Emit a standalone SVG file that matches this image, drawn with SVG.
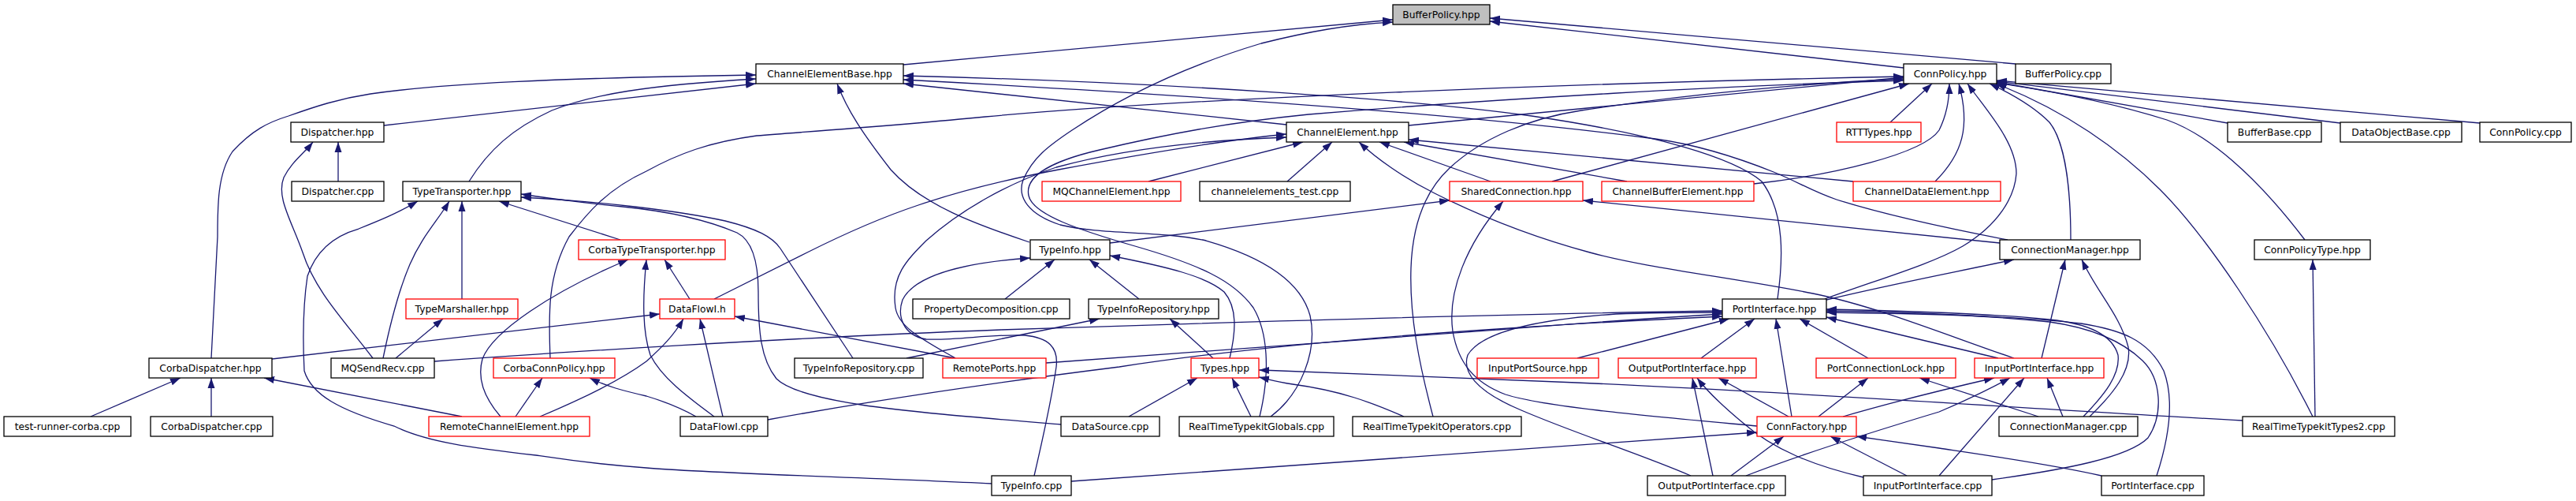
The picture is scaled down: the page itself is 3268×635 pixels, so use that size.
<svg xmlns="http://www.w3.org/2000/svg" width="3268" height="635" viewBox="0 0 3268 635">
<style>
.n rect{fill:#fff;stroke:#000;stroke-width:1.3}
.n.r rect{stroke:#f00}
.n.root rect{fill:#bfbfbf}
.n text{font-family:"DejaVu Sans","Liberation Sans",sans-serif;font-size:12.3px;text-anchor:middle;fill:#000}
#edges path{fill:none;stroke:#191970;stroke-width:1.3;marker-end:url(#a)}
</style>
<defs>
<marker id="a" markerUnits="userSpaceOnUse" markerWidth="14" markerHeight="10" refX="13" refY="5" orient="auto"><path d="M0,0.5 L13,5 L0,9.5 z" fill="#191970"/></marker>
</defs>
<rect width="3268" height="635" fill="#fff"/>
<g id="edges">
<path d="M1146,82 L1767,25"/>
<path d="M1612,528 C1650,500 1672,445 1662,400 C1650,355 1600,325 1530,305 C1470,292 1400,298 1345,285 C1305,272 1290,250 1298,228 C1310,200 1330,185 1360,165 C1420,125 1500,85 1600,55 C1660,40 1710,31 1767,28"/>
<path d="M2415,86 L1890,27"/>
<path d="M2557,81 L1890,23"/>
<path d="M487,159 L959,106"/>
<path d="M268,454 L276,300 C276,260 276,220 295,192 C320,165 340,155 366,147 C400,135 430,125 470,119 C560,106 700,99 959,95"/>
<path d="M595,230 C620,190 650,163 700,140 C750,120 820,108 959,100"/>
<path d="M1306,307 C1240,285 1170,260 1130,215 C1095,170 1075,140 1062,106"/>
<path d="M1632,158 L1146,106"/>
<path d="M2255,379 C2262,330 2265,270 2235,230 C2200,200 2100,170 1943,147 C1800,127 1500,105 1146,96"/>
<path d="M2547,304 C2500,295 2400,275 2330,253 C2300,243 2280,230 2250,218 C2200,198 2150,183 2100,176 C1900,150 1600,125 1146,101"/>
<path d="M1787,159 L2415,98"/>
<path d="M1969,230 L2422,106"/>
<path d="M2398,155 L2451,106"/>
<path d="M2225,233 C2325,222 2440,195 2460,165 C2470,145 2473,125 2473,106"/>
<path d="M2455,230 C2490,195 2500,160 2485,106"/>
<path d="M2315,379 C2380,355 2450,335 2490,312 C2535,285 2556,250 2558,220 C2558,180 2520,140 2496,106"/>
<path d="M2627,304 C2627,240 2620,180 2600,155 C2580,135 2550,118 2524,106"/>
<path d="M2934,528 C2880,420 2800,300 2740,240 C2690,190 2620,140 2532,106"/>
<path d="M2924,304 C2860,220 2800,170 2749,152 C2680,130 2600,115 2533,105"/>
<path d="M2826,156 L2533,104"/>
<path d="M2969,156 L2533,103"/>
<path d="M3146,156 L2533,102"/>
<path d="M698,454 C696,400 694,350 722,300 C745,270 770,240 820,217 C860,195 900,180 960,172 C1050,165 1150,158 1250,148 C1500,125 2000,105 2415,97"/>
<path d="M1818,528 C1800,460 1788,400 1790,340 C1792,280 1810,240 1839,213 C1880,175 1940,150 2006,140 C2150,118 2300,105 2415,100"/>
<path d="M1598,528 C1612,470 1608,420 1590,390 C1565,355 1520,335 1440,312 C1370,292 1310,272 1305,248 C1300,225 1330,205 1395,190 C1480,170 1560,155 1660,145 C1900,125 2200,108 2415,102"/>
<path d="M1408,308 L1839,254"/>
<path d="M2229,540 C2100,528 1960,516 1910,500 C1870,485 1850,460 1843,420 C1836,370 1860,310 1907,255"/>
<path d="M2537,308 L2008,254"/>
<path d="M1891,230 L1750,180"/>
<path d="M2064,230 L1781,180"/>
<path d="M2351,230 L1787,177"/>
<path d="M1457,230 L1653,180"/>
<path d="M1633,230 L1690,180"/>
<path d="M906,379 L1024,320 C1080,292 1120,275 1165,260 C1230,238 1290,225 1343,215 C1450,195 1550,178 1632,170"/>
<path d="M1212,454 C1170,430 1140,415 1136,390 C1130,350 1150,330 1175,305 C1220,265 1280,232 1340,212 C1420,190 1520,178 1632,174"/>
<path d="M2555,454 C2470,425 2380,388 2300,372 C2200,352 2090,340 2017,320 C1950,302 1880,275 1820,245 C1780,225 1745,200 1724,180"/>
<path d="M429,230 L429,180"/>
<path d="M473,454 C440,410 400,370 384,320 C370,280 350,250 360,225 C370,205 385,195 397,180"/>
<path d="M787,304 L633,255"/>
<path d="M586,379 L586,255"/>
<path d="M486,454 C495,410 505,370 520,335 C535,300 555,280 570,255"/>
<path d="M1259,613 C1100,605 900,600 820,593 C750,588 700,580 680,577 C600,568 540,560 500,540 C430,520 395,500 386,470 C384,430 384,390 390,350 C400,320 420,300 455,290 C480,280 505,270 530,255"/>
<path d="M1082,454 L990,315 C980,300 960,290 920,280 C860,267 760,255 661,250"/>
<path d="M1346,538 C1250,530 1150,522 1092,513 C1040,505 1000,495 985,480 C965,455 962,420 962,370 C962,335 955,305 935,295 C900,280 850,268 790,262 C730,256 700,252 661,246"/>
<path d="M875,379 L843,329"/>
<path d="M906,528 C875,505 840,480 825,450 C815,420 815,380 820,329"/>
<path d="M635,528 C615,505 605,480 612,455 C625,420 700,370 797,329"/>
<path d="M345,455 L837,398"/>
<path d="M685,528 C740,505 790,480 820,458 C840,440 855,425 867,404"/>
<path d="M917,528 L888,404"/>
<path d="M1212,454 L932,401"/>
<path d="M654,528 L688,479"/>
<path d="M883,528 C860,515 840,508 820,502 C790,495 770,490 748,479"/>
<path d="M115,528 L229,479"/>
<path d="M268,528 L268,479"/>
<path d="M586,528 L335,479"/>
<path d="M502,454 L562,404"/>
<path d="M1275,379 L1338,329"/>
<path d="M1445,379 L1382,329"/>
<path d="M1560,454 C1568,420 1570,390 1553,370 C1530,350 1480,338 1408,324"/>
<path d="M1312,603 C1322,560 1335,500 1340,465 C1343,440 1330,428 1300,425 C1260,423 1210,432 1175,430 C1145,425 1138,400 1145,380 C1160,350 1220,333 1307,327"/>
<path d="M1150,454 L1395,404"/>
<path d="M1539,454 L1484,404"/>
<path d="M1432,528 L1519,479"/>
<path d="M1587,528 L1563,479"/>
<path d="M2845,533 C2600,520 2300,498 2000,485 C1800,476 1700,472 1597,469"/>
<path d="M1781,528 C1740,510 1700,495 1640,487 C1620,484 1610,481 1597,478"/>
<path d="M2001,454 L2194,404"/>
<path d="M2158,454 L2226,404"/>
<path d="M2273,528 L2253,404"/>
<path d="M2370,454 L2283,404"/>
<path d="M2535,454 L2317,402"/>
<path d="M551,458 C700,447 1000,428 1270,418 C1600,407 1900,398 2185,394"/>
<path d="M1327,460 C1500,447 1700,432 1900,418 C2000,410 2100,403 2185,398"/>
<path d="M974,532 C1150,500 1300,480 1420,465 C1550,445 1700,430 1900,417 C2000,410 2100,405 2185,401"/>
<path d="M2145,603 C2080,575 2000,550 1930,520 C1870,495 1855,470 1862,450 C1880,420 1950,405 2050,398 C2100,396 2150,396 2185,396"/>
<path d="M2527,608 C2620,595 2700,580 2725,555 C2745,525 2742,480 2718,457 C2690,430 2650,415 2600,408 C2500,398 2400,395 2317,394"/>
<path d="M2736,603 C2750,560 2760,510 2745,470 C2725,430 2690,418 2640,410 C2550,400 2420,397 2317,396"/>
<path d="M2643,528 C2670,500 2690,475 2687,450 C2680,425 2650,410 2600,405 C2520,397 2420,394 2317,392"/>
<path d="M2317,380 C2400,360 2480,345 2555,329"/>
<path d="M2651,528 C2680,500 2705,470 2700,440 C2690,400 2660,370 2641,329"/>
<path d="M2590,454 L2620,329"/>
<path d="M2338,528 C2400,510 2460,495 2530,479"/>
<path d="M2215,603 C2300,570 2400,540 2460,522 C2500,505 2530,490 2550,479"/>
<path d="M2460,603 L2568,479"/>
<path d="M2617,528 L2597,479"/>
<path d="M2307,528 L2370,479"/>
<path d="M2586,528 L2435,479"/>
<path d="M2269,528 L2180,479"/>
<path d="M2173,603 L2147,479"/>
<path d="M2364,605 C2300,590 2250,570 2210,535 C2180,510 2165,495 2153,479"/>
<path d="M2196,603 L2263,553"/>
<path d="M2419,603 L2322,553"/>
<path d="M2666,603 C2600,588 2500,574 2460,568 C2420,562 2390,558 2355,553"/>
<path d="M1359,610 C1600,592 1900,570 2229,548"/>
<path d="M2937,528 L2934,329"/>
</g>
<g id="node-BufferPolicy_hpp" class="n root"><rect x="1767" y="6" width="123" height="25"/><text x="1828.5" y="23">BufferPolicy.hpp</text></g>
<g id="node-ChannelElementBase_hpp" class="n"><rect x="959" y="81" width="187" height="25"/><text x="1052.5" y="98">ChannelElementBase.hpp</text></g>
<g id="node-ConnPolicy_hpp" class="n"><rect x="2415" y="81" width="118" height="25"/><text x="2474" y="98">ConnPolicy.hpp</text></g>
<g id="node-BufferPolicy_cpp" class="n"><rect x="2557" y="81" width="121" height="25"/><text x="2617.5" y="98">BufferPolicy.cpp</text></g>
<g id="node-Dispatcher_hpp" class="n"><rect x="369" y="155" width="118" height="25"/><text x="428" y="172">Dispatcher.hpp</text></g>
<g id="node-ChannelElement_hpp" class="n"><rect x="1632" y="155" width="155" height="25"/><text x="1709.5" y="172">ChannelElement.hpp</text></g>
<g id="node-RTTTypes_hpp" class="n r"><rect x="2330" y="155" width="107" height="25"/><text x="2383.5" y="172">RTTTypes.hpp</text></g>
<g id="node-BufferBase_cpp" class="n"><rect x="2826" y="155" width="119" height="25"/><text x="2885.5" y="172">BufferBase.cpp</text></g>
<g id="node-DataObjectBase_cpp" class="n"><rect x="2969" y="155" width="154" height="25"/><text x="3046" y="172">DataObjectBase.cpp</text></g>
<g id="node-ConnPolicy_cpp" class="n"><rect x="3146" y="155" width="116" height="25"/><text x="3204" y="172">ConnPolicy.cpp</text></g>
<g id="node-Dispatcher_cpp" class="n"><rect x="370" y="230" width="117" height="25"/><text x="428.5" y="247">Dispatcher.cpp</text></g>
<g id="node-TypeTransporter_hpp" class="n"><rect x="511" y="230" width="150" height="25"/><text x="586" y="247">TypeTransporter.hpp</text></g>
<g id="node-MQChannelElement_hpp" class="n r"><rect x="1322" y="230" width="176" height="25"/><text x="1410" y="247">MQChannelElement.hpp</text></g>
<g id="node-channelelements_test_cpp" class="n"><rect x="1522" y="230" width="191" height="25"/><text x="1617.5" y="247">channelelements_test.cpp</text></g>
<g id="node-SharedConnection_hpp" class="n r"><rect x="1839" y="230" width="169" height="25"/><text x="1923.5" y="247">SharedConnection.hpp</text></g>
<g id="node-ChannelBufferElement_hpp" class="n r"><rect x="2032" y="230" width="193" height="25"/><text x="2128.5" y="247">ChannelBufferElement.hpp</text></g>
<g id="node-ChannelDataElement_hpp" class="n r"><rect x="2351" y="230" width="187" height="25"/><text x="2444.5" y="247">ChannelDataElement.hpp</text></g>
<g id="node-CorbaTypeTransporter_hpp" class="n r"><rect x="734" y="304" width="186" height="25"/><text x="827" y="321">CorbaTypeTransporter.hpp</text></g>
<g id="node-TypeInfo_hpp" class="n"><rect x="1307" y="304" width="101" height="25"/><text x="1357.5" y="321">TypeInfo.hpp</text></g>
<g id="node-ConnectionManager_hpp" class="n"><rect x="2537" y="304" width="178" height="25"/><text x="2626" y="321">ConnectionManager.hpp</text></g>
<g id="node-ConnPolicyType_hpp" class="n"><rect x="2860" y="304" width="147" height="25"/><text x="2933.5" y="321">ConnPolicyType.hpp</text></g>
<g id="node-TypeMarshaller_hpp" class="n r"><rect x="515" y="379" width="142" height="25"/><text x="586" y="396">TypeMarshaller.hpp</text></g>
<g id="node-DataFlowI_h" class="n r"><rect x="837" y="379" width="95" height="25"/><text x="884.5" y="396">DataFlowI.h</text></g>
<g id="node-PropertyDecomposition_cpp" class="n"><rect x="1158" y="379" width="199" height="25"/><text x="1257.5" y="396">PropertyDecomposition.cpp</text></g>
<g id="node-TypeInfoRepository_hpp" class="n"><rect x="1381" y="379" width="165" height="25"/><text x="1463.5" y="396">TypeInfoRepository.hpp</text></g>
<g id="node-PortInterface_hpp" class="n"><rect x="2185" y="379" width="132" height="25"/><text x="2251" y="396">PortInterface.hpp</text></g>
<g id="node-CorbaDispatcher_hpp" class="n"><rect x="189" y="454" width="156" height="25"/><text x="267" y="471">CorbaDispatcher.hpp</text></g>
<g id="node-MQSendRecv_cpp" class="n"><rect x="420" y="454" width="131" height="25"/><text x="485.5" y="471">MQSendRecv.cpp</text></g>
<g id="node-CorbaConnPolicy_hpp" class="n r"><rect x="626" y="454" width="154" height="25"/><text x="703" y="471">CorbaConnPolicy.hpp</text></g>
<g id="node-TypeInfoRepository_cpp" class="n"><rect x="1008" y="454" width="163" height="25"/><text x="1089.5" y="471">TypeInfoRepository.cpp</text></g>
<g id="node-RemotePorts_hpp" class="n r"><rect x="1196" y="454" width="131" height="25"/><text x="1261.5" y="471">RemotePorts.hpp</text></g>
<g id="node-Types_hpp" class="n r"><rect x="1511" y="454" width="86" height="25"/><text x="1554" y="471">Types.hpp</text></g>
<g id="node-InputPortSource_hpp" class="n r"><rect x="1874" y="454" width="154" height="25"/><text x="1951" y="471">InputPortSource.hpp</text></g>
<g id="node-OutputPortInterface_hpp" class="n r"><rect x="2053" y="454" width="175" height="25"/><text x="2140.5" y="471">OutputPortInterface.hpp</text></g>
<g id="node-PortConnectionLock_hpp" class="n r"><rect x="2304" y="454" width="177" height="25"/><text x="2392.5" y="471">PortConnectionLock.hpp</text></g>
<g id="node-InputPortInterface_hpp" class="n r"><rect x="2505" y="454" width="164" height="25"/><text x="2587" y="471">InputPortInterface.hpp</text></g>
<g id="node-test-runner-corba_cpp" class="n"><rect x="5" y="528" width="161" height="25"/><text x="85.5" y="545">test-runner-corba.cpp</text></g>
<g id="node-CorbaDispatcher_cpp" class="n"><rect x="191" y="528" width="155" height="25"/><text x="268.5" y="545">CorbaDispatcher.cpp</text></g>
<g id="node-RemoteChannelElement_hpp" class="n r"><rect x="544" y="528" width="204" height="25"/><text x="646" y="545">RemoteChannelElement.hpp</text></g>
<g id="node-DataFlowI_cpp" class="n"><rect x="863" y="528" width="111" height="25"/><text x="918.5" y="545">DataFlowI.cpp</text></g>
<g id="node-DataSource_cpp" class="n"><rect x="1346" y="528" width="125" height="25"/><text x="1408.5" y="545">DataSource.cpp</text></g>
<g id="node-RealTimeTypekitGlobals_cpp" class="n"><rect x="1496" y="528" width="196" height="25"/><text x="1594" y="545">RealTimeTypekitGlobals.cpp</text></g>
<g id="node-RealTimeTypekitOperators_cpp" class="n"><rect x="1716" y="528" width="214" height="25"/><text x="1823" y="545">RealTimeTypekitOperators.cpp</text></g>
<g id="node-ConnFactory_hpp" class="n r"><rect x="2229" y="528" width="126" height="25"/><text x="2292" y="545">ConnFactory.hpp</text></g>
<g id="node-ConnectionManager_cpp" class="n"><rect x="2536" y="528" width="176" height="25"/><text x="2624" y="545">ConnectionManager.cpp</text></g>
<g id="node-RealTimeTypekitTypes2_cpp" class="n"><rect x="2845" y="528" width="193" height="25"/><text x="2941.5" y="545">RealTimeTypekitTypes2.cpp</text></g>
<g id="node-TypeInfo_cpp" class="n"><rect x="1258" y="603" width="101" height="25"/><text x="1308.5" y="620">TypeInfo.cpp</text></g>
<g id="node-OutputPortInterface_cpp" class="n"><rect x="2090" y="603" width="175" height="25"/><text x="2177.5" y="620">OutputPortInterface.cpp</text></g>
<g id="node-InputPortInterface_cpp" class="n"><rect x="2364" y="603" width="163" height="25"/><text x="2445.5" y="620">InputPortInterface.cpp</text></g>
<g id="node-PortInterface_cpp" class="n"><rect x="2666" y="603" width="130" height="25"/><text x="2731" y="620">PortInterface.cpp</text></g>
</svg>
